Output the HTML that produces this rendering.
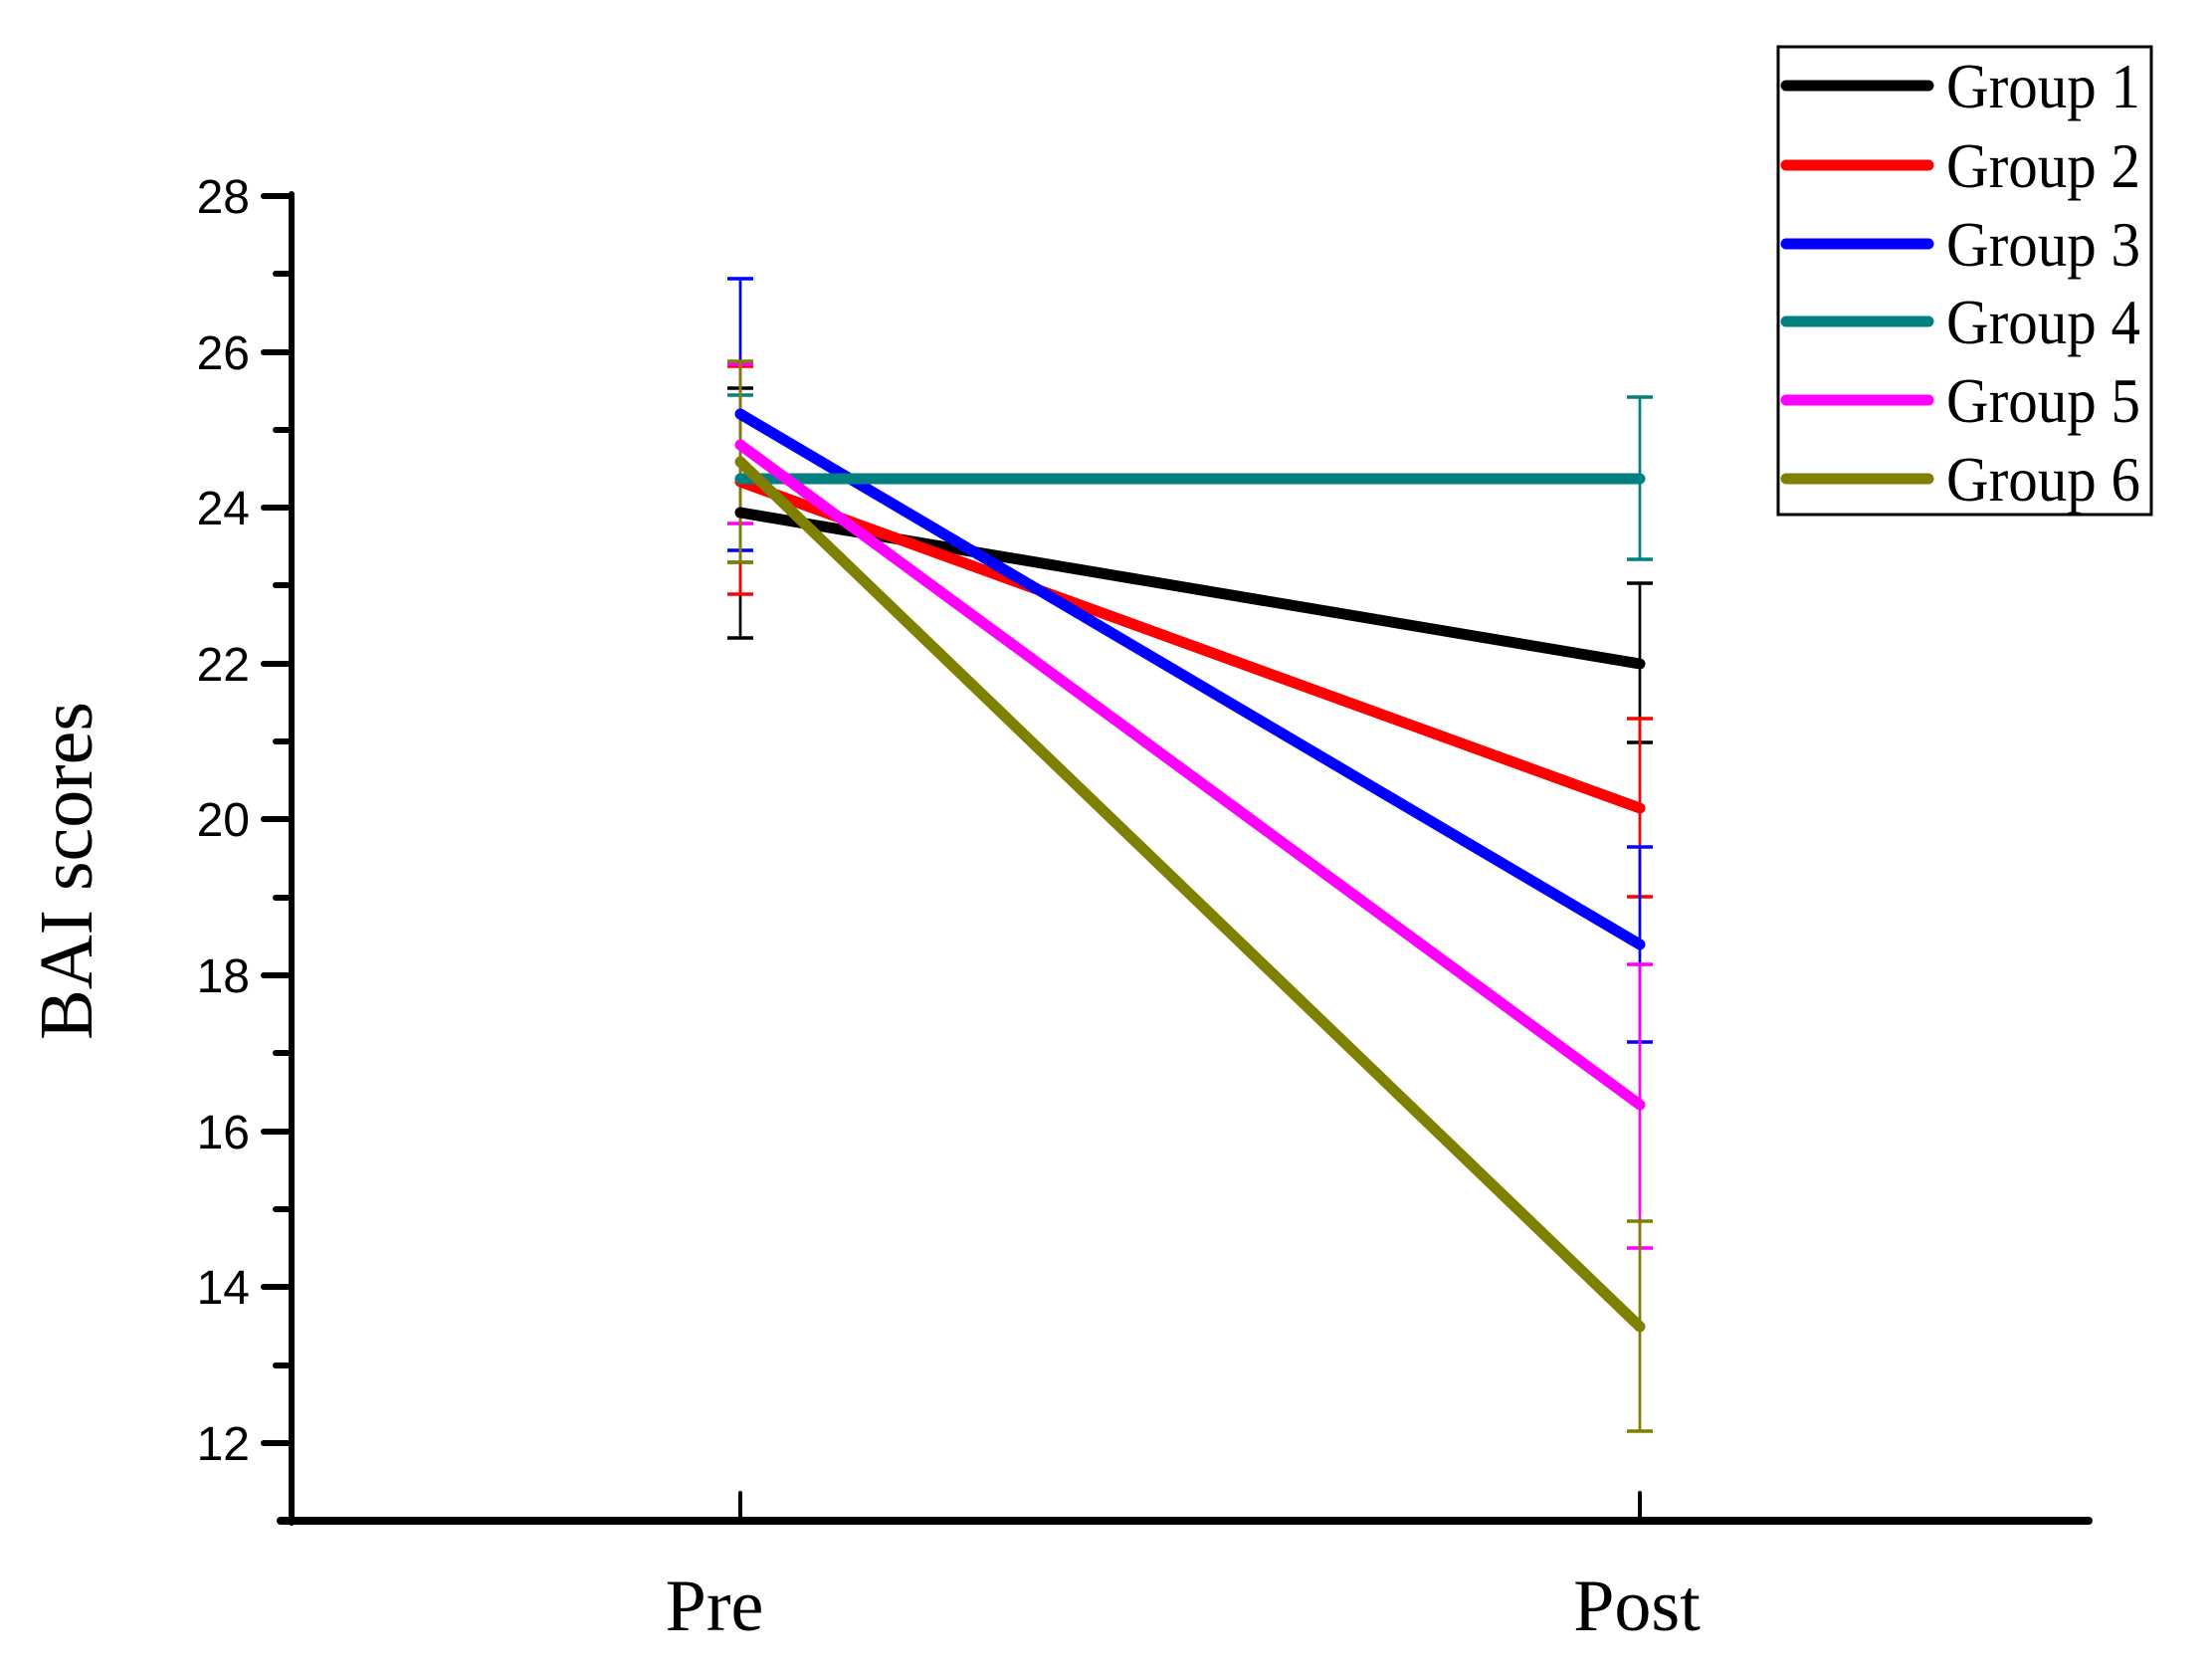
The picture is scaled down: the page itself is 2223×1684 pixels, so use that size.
<!DOCTYPE html>
<html><head><meta charset="utf-8"><style>html,body{margin:0;padding:0;background:#fff}svg{display:block}</style></head>
<body>
<svg width="2223" height="1684" viewBox="0 0 2223 1684" xmlns="http://www.w3.org/2000/svg">
<rect width="2223" height="1684" fill="#fff"/>
<g stroke="#000" stroke-width="6" fill="none" stroke-linecap="round">
<line x1="293" y1="195" x2="293" y2="1530"/>
<line x1="282" y1="1528" x2="2099" y2="1528" stroke-width="8"/>
<line x1="744" y1="1528" x2="744" y2="1500" stroke-width="4"/>
<line x1="1648" y1="1528" x2="1648" y2="1500" stroke-width="4"/>
<line x1="265" y1="197" x2="293" y2="197"/><line x1="277" y1="275" x2="293" y2="275"/>
<line x1="265" y1="354" x2="293" y2="354"/><line x1="277" y1="432" x2="293" y2="432"/>
<line x1="265" y1="510" x2="293" y2="510"/><line x1="277" y1="588" x2="293" y2="588"/>
<line x1="265" y1="667" x2="293" y2="667"/><line x1="277" y1="745" x2="293" y2="745"/>
<line x1="265" y1="823" x2="293" y2="823"/><line x1="277" y1="902" x2="293" y2="902"/>
<line x1="265" y1="980" x2="293" y2="980"/><line x1="277" y1="1058" x2="293" y2="1058"/>
<line x1="265" y1="1137" x2="293" y2="1137"/><line x1="277" y1="1215" x2="293" y2="1215"/>
<line x1="265" y1="1293" x2="293" y2="1293"/><line x1="277" y1="1372" x2="293" y2="1372"/>
<line x1="265" y1="1450" x2="293" y2="1450"/>
</g>
<g font-family="Liberation Sans, sans-serif" font-size="48" text-anchor="end" fill="#000">
<text x="251" y="214">28</text><text x="251" y="371">26</text><text x="251" y="527">24</text>
<text x="251" y="684">22</text><text x="251" y="840">20</text><text x="251" y="997">18</text>
<text x="251" y="1154">16</text><text x="251" y="1310">14</text><text x="251" y="1467">12</text>
</g>
<g font-family="Liberation Serif, serif" font-size="74" text-anchor="middle" fill="#000">
<text x="718" y="1638">Pre</text><text x="1645" y="1638">Post</text>
<text transform="translate(92,875) rotate(-90)" font-size="76">BAI scores</text>
</g>
<g stroke-width="2.7" fill="none">
<g stroke="#000"><line x1="744" y1="390" x2="744" y2="641"/><line x1="731" y1="390" x2="757" y2="390" stroke-width="3.5"/><line x1="731" y1="641" x2="757" y2="641" stroke-width="3.5"/>
<line x1="1648" y1="586" x2="1648" y2="746"/><line x1="1635" y1="586" x2="1661" y2="586" stroke-width="3.5"/><line x1="1635" y1="746" x2="1661" y2="746" stroke-width="3.5"/></g>
<g stroke="#f00"><line x1="744" y1="368" x2="744" y2="597"/><line x1="731" y1="368" x2="757" y2="368" stroke-width="3.5"/><line x1="731" y1="597" x2="757" y2="597" stroke-width="3.5"/>
<line x1="1648" y1="722" x2="1648" y2="901"/><line x1="1635" y1="722" x2="1661" y2="722" stroke-width="3.5"/><line x1="1635" y1="901" x2="1661" y2="901" stroke-width="3.5"/></g>
<g stroke="#00f"><line x1="744" y1="280" x2="744" y2="553"/><line x1="731" y1="280" x2="757" y2="280" stroke-width="3.5"/><line x1="731" y1="553" x2="757" y2="553" stroke-width="3.5"/>
<line x1="1648" y1="851" x2="1648" y2="1047"/><line x1="1635" y1="851" x2="1661" y2="851" stroke-width="3.5"/><line x1="1635" y1="1047" x2="1661" y2="1047" stroke-width="3.5"/></g>
<g stroke="#008080"><line x1="744" y1="397" x2="744" y2="565"/><line x1="731" y1="397" x2="757" y2="397" stroke-width="3.5"/><line x1="731" y1="565" x2="757" y2="565" stroke-width="3.5"/>
<line x1="1648" y1="399" x2="1648" y2="562"/><line x1="1635" y1="399" x2="1661" y2="399" stroke-width="3.5"/><line x1="1635" y1="562" x2="1661" y2="562" stroke-width="3.5"/></g>
<g stroke="#f0f"><line x1="744" y1="366" x2="744" y2="526"/><line x1="731" y1="366" x2="757" y2="366" stroke-width="3.5"/><line x1="731" y1="526" x2="757" y2="526" stroke-width="3.5"/>
<line x1="1648" y1="969" x2="1648" y2="1254"/><line x1="1635" y1="969" x2="1661" y2="969" stroke-width="3.5"/><line x1="1635" y1="1254" x2="1661" y2="1254" stroke-width="3.5"/></g>
<g stroke="#808000"><line x1="744" y1="363" x2="744" y2="565"/><line x1="731" y1="363" x2="757" y2="363" stroke-width="3.5"/><line x1="731" y1="565" x2="757" y2="565" stroke-width="3.5"/>
<line x1="1648" y1="1227" x2="1648" y2="1438"/><line x1="1635" y1="1227" x2="1661" y2="1227" stroke-width="3.5"/><line x1="1635" y1="1438" x2="1661" y2="1438" stroke-width="3.5"/></g>
</g>
<g stroke-width="11" stroke-linecap="round" fill="none">
<line x1="744" y1="515" x2="1648" y2="667" stroke="#000"/>
<line x1="744" y1="484" x2="1648" y2="812" stroke="#f00"/>
<line x1="744" y1="416" x2="1648" y2="949" stroke="#00f"/>
<line x1="744" y1="481" x2="1648" y2="481" stroke="#008080"/>
<line x1="744" y1="447" x2="1648" y2="1110" stroke="#f0f"/>
<line x1="744" y1="464" x2="1648" y2="1333" stroke="#808000"/>
</g>
<rect x="1787" y="47" width="375" height="470" fill="none" stroke="#000" stroke-width="3"/>
<g stroke-width="11" stroke-linecap="round">
<line x1="1795" y1="86" x2="1938" y2="86" stroke="#000"/>
<line x1="1795" y1="166" x2="1938" y2="166" stroke="#f00"/>
<line x1="1795" y1="245" x2="1938" y2="245" stroke="#00f"/>
<line x1="1795" y1="323" x2="1938" y2="323" stroke="#008080"/>
<line x1="1795" y1="402" x2="1938" y2="402" stroke="#f0f"/>
<line x1="1795" y1="481" x2="1938" y2="481" stroke="#808000"/>
</g>
<g font-family="Liberation Serif, serif" font-size="64" fill="#000">
<text x="1956" y="108" textLength="195" lengthAdjust="spacingAndGlyphs">Group 1</text>
<text x="1956" y="188" textLength="195" lengthAdjust="spacingAndGlyphs">Group 2</text>
<text x="1956" y="267" textLength="195" lengthAdjust="spacingAndGlyphs">Group 3</text>
<text x="1956" y="345" textLength="195" lengthAdjust="spacingAndGlyphs">Group 4</text>
<text x="1956" y="424" textLength="195" lengthAdjust="spacingAndGlyphs">Group 5</text>
<text x="1956" y="503" textLength="195" lengthAdjust="spacingAndGlyphs">Group 6</text>
</g>
</svg>
</body></html>
